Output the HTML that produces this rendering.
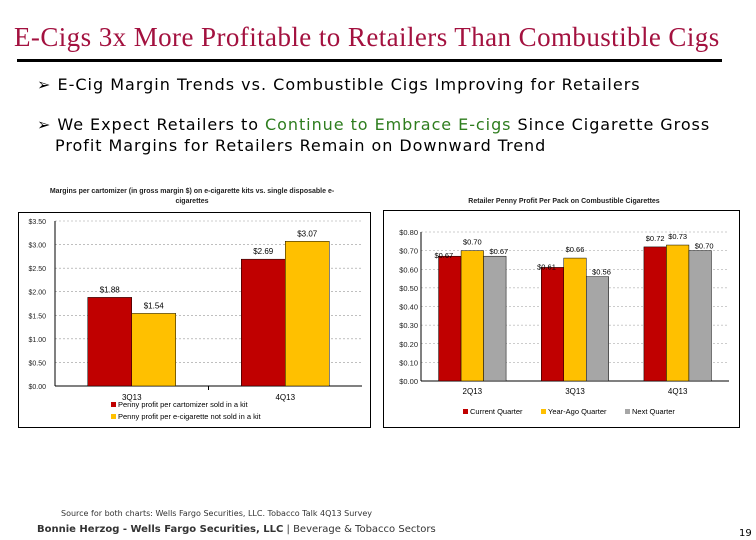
<!DOCTYPE html>
<html><head><meta charset="utf-8"><style>
body{margin:0;width:756px;height:540px;background:#fff;position:relative;overflow:hidden;font-family:"DejaVu Sans","Liberation Sans",sans-serif}
.abs{position:absolute;white-space:nowrap}
</style></head><body>
<div class="abs" style="left:14px;top:22px;font-family:'Liberation Serif',serif;font-size:27px;color:#a3113f;letter-spacing:0.42px">E-Cigs 3x More Profitable to Retailers Than Combustible Cigs</div>
<div class="abs" style="left:17px;top:59px;width:705px;height:3px;background:#000"></div>
<div class="abs" style="left:37px;top:75px;font-size:16px;letter-spacing:1.0px;color:#000">➢ E-Cig Margin Trends vs. Combustible Cigs Improving for Retailers</div>
<div class="abs" style="left:37px;top:114px;font-size:16px;letter-spacing:0.95px;color:#000;line-height:21px">➢ We Expect Retailers to <span style="color:#2e7d1e">Continue to Embrace E-cigs</span> Since Cigarette Gross<br><span style="padding-left:18px">Profit Margins for Retailers Remain on Downward Trend</span></div>

<svg class="abs" style="left:0;top:0" width="756" height="540" font-family="Liberation Sans, sans-serif">
<g id="left"></g>
<g id="right"></g>
</svg>

<div class="abs" style="left:61px;top:509px;font-size:8px;color:#333">Source for both charts: Wells Fargo Securities, LLC. Tobacco Talk 4Q13 Survey</div>
<div class="abs" style="left:37px;top:524px;font-size:10px;color:#333"><b>Bonnie Herzog - Wells Fargo Securities, LLC</b> | Beverage &amp; Tobacco Sectors</div>
<div class="abs" style="left:739px;top:528px;font-size:10px;color:#000">19</div>

<script>
const NS='http://www.w3.org/2000/svg';
const leftCats=['3Q13','4Q13'];
const leftKit=[1.88,2.69];
const leftSingle=[1.54,3.07];
const leftKitLabels=['$1.88','$2.69'];
const leftSingleLabels=['$1.54','$3.07'];
const leftTicks=[0,0.5,1,1.5,2,2.5,3,3.5];
const rightCats=['2Q13','3Q13','4Q13'];
const rightCurrent=[0.67,0.61,0.72];
const rightYearAgo=[0.70,0.66,0.73];
const rightNext=[0.67,0.56,0.70];
const rightTicks=[0,0.1,0.2,0.3,0.4,0.5,0.6,0.7,0.8];
const RED='#c00000',YEL='#ffc000',GRY='#a6a6a6';

function mk(p,tag,a,txt){const e=document.createElementNS(NS,tag);for(const k in a)e.setAttribute(k,a[k]);if(txt!=null)e.textContent=txt;p.appendChild(e);return e;}

// LEFT
(function(){
const g=document.getElementById('left');
mk(g,'text',{x:192,y:193,'font-size':7,'font-weight':'bold','text-anchor':'middle',fill:'#222'},'Margins per cartomizer (in gross margin $) on e-cigarette kits vs. single disposable e-');
mk(g,'text',{x:192,y:203,'font-size':7,'font-weight':'bold','text-anchor':'middle',fill:'#222'},'cigarettes');
mk(g,'rect',{x:18.5,y:212.5,width:352,height:215,fill:'#fff',stroke:'#000','stroke-width':1});
const x0=55,x1=362,yb=386,yt=221,max=3.5;
const y=v=>yb-(v/max)*(yb-yt);
leftTicks.forEach(t=>{
  const ln=mk(g,'line',{x1:x0,x2:x1,y1:y(t),y2:y(t),stroke:t===0?'#000':'#999','stroke-dasharray':t===0?'':'2,2','stroke-width':t===0?1:0.6});
  
  const tx=mk(g,'text',{x:x0-9,y:y(t)+3,'font-size':7,'text-anchor':'end',fill:'#222'},'$'+t.toFixed(2));
  
});
mk(g,'line',{x1:x0,x2:x0,y1:yt,y2:yb,stroke:'#000'});
const cw=(x1-x0)/leftCats.length,bw=44;
leftCats.forEach((c,i)=>{
  const cx=x0+cw*i+cw/2;
  const r1=mk(g,'rect',{x:cx-bw,y:y(leftKit[i]),width:bw,height:yb-y(leftKit[i]),fill:RED,stroke:'#000','stroke-width':0.5});
  
  const r2=mk(g,'rect',{x:cx,y:y(leftSingle[i]),width:bw,height:yb-y(leftSingle[i]),fill:YEL,stroke:'#000','stroke-width':0.5});
  
  mk(g,'text',{x:cx-bw/2,y:y(leftKit[i])-5,'font-size':8,'text-anchor':'middle',fill:'#000'},leftKitLabels[i]);
  mk(g,'text',{x:cx+bw/2,y:y(leftSingle[i])-5,'font-size':8,'text-anchor':'middle',fill:'#000'},leftSingleLabels[i]);
  const cl=mk(g,'text',{x:cx,y:yb+14,'font-size':8,'text-anchor':'middle',fill:'#000'},c);
  
  if(i>0)mk(g,'line',{x1:x0+cw*i,x2:x0+cw*i,y1:yb,y2:yb+4,stroke:'#000'});
});
const l1=mk(g,'g',{});
mk(l1,'rect',{x:111,y:402,width:5,height:5,fill:RED});
mk(l1,'text',{x:118,y:407,'font-size':7.5,fill:'#000'},'Penny profit per cartomizer sold in a kit');
const l2=mk(g,'g',{});
mk(l2,'rect',{x:111,y:414,width:5,height:5,fill:YEL});
mk(l2,'text',{x:118,y:419,'font-size':7.5,fill:'#000'},'Penny profit per e-cigarette not sold in a kit');
})();

// RIGHT
(function(){
const g=document.getElementById('right');
mk(g,'text',{x:564,y:203,'font-size':7,'font-weight':'bold','text-anchor':'middle',fill:'#222'},'Retailer Penny Profit Per Pack on Combustible Cigarettes');
mk(g,'rect',{x:383.5,y:210.5,width:356,height:217,fill:'#fff',stroke:'#000','stroke-width':1});
const x0=421,x1=729,yb=381,yt=232,max=0.8;
const y=v=>yb-(v/max)*(yb-yt);
rightTicks.forEach(t=>{
  const ln=mk(g,'line',{x1:x0,x2:x1,y1:y(t),y2:y(t),stroke:t===0?'#000':'#999','stroke-dasharray':t===0?'':'2,2','stroke-width':t===0?1:0.6});
  
  const tx=mk(g,'text',{x:x0-3,y:y(t)+3,'font-size':7.5,'text-anchor':'end',fill:'#222'},'$'+t.toFixed(2));
  
});
mk(g,'line',{x1:x0,x2:x0,y1:yt,y2:yb,stroke:'#000'});
const cw=(x1-x0)/rightCats.length,bw=22.5;
const series=[[rightCurrent,RED,'current'],[rightYearAgo,YEL,'year-ago'],[rightNext,GRY,'next']];
rightCats.forEach((c,i)=>{
  const cx=x0+cw*i+cw/2;
  series.forEach((s,j)=>{
    const v=s[0][i],bx=cx-1.5*bw+j*bw;
    const r=mk(g,'rect',{x:bx,y:y(v),width:bw,height:yb-y(v),fill:s[1],stroke:'#000','stroke-width':0.5});
    
    const off=j===1?-6:(j===0?(i===2?-6:2):-2);
    mk(g,'text',{x:bx+bw/2+(j===0&&i<2?-6:0)+(j===2?4:0),y:y(v)+off,'font-size':7.5,'text-anchor':'middle',fill:'#000'},'$'+v.toFixed(2));
  });
  const cl=mk(g,'text',{x:cx,y:yb+13,'font-size':8,'text-anchor':'middle',fill:'#000'},c);
  
});
const leg=[['Current Quarter',RED,463],['Year-Ago Quarter',YEL,541],['Next Quarter',GRY,625]];
leg.forEach(L=>{
  const lg=mk(g,'g',{});
  
  
  mk(lg,'rect',{x:L[2],y:409,width:5,height:5,fill:L[1]});
  mk(lg,'text',{x:L[2]+7,y:414,'font-size':7.5,fill:'#000'},L[0]);
});
})();
</script>
</body></html>
